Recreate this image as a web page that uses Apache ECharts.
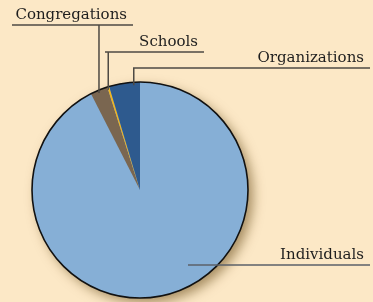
<!DOCTYPE html>
<html>
<head>
<meta charset="utf-8">
<script src="https://cdn.jsdelivr.net/npm/echarts@6/dist/echarts.min.js"></script>
<style>
html, body { margin: 0; padding: 0; background: #fce8c6; }
#chart { width: 373px; height: 302px; }
</style>
</head>
<body>
<div id="chart"></div>
<script>
var categories = ['Individuals', 'Congregations', 'Schools', 'Organizations'];
var values = [92.5, 2.6, 0.3, 4.6];
var colors = ['#86afd6', '#7a6650', '#f2b51c', '#2e5a8e'];

// where each label's underline sits, and where along the slice its leader starts
var labelPlace = [
  { y: 265, left: 188, right: 370, at: null },
  { y: 25, left: 12, right: 133, at: 0.5 },
  { y: 52, left: 105, right: 204, at: 0.5 },
  { y: 68, left: 133, right: 370, at: 0.8 }
];

var cx = 140, cy = 190, r = 108;

var total = values.reduce(function (a, b) { return a + b; }, 0);
var starts = [];
var acc = 0;
values.forEach(function (v) { starts.push(acc); acc += v; });

var chart = echarts.init(document.getElementById('chart'));

var fillData = categories.map(function (name, i) {
  return { name: name, value: values[i], itemStyle: { color: colors[i] } };
});

var labelData = categories.map(function (name, i) {
  return {
    name: name,
    value: values[i],
    labelLine: { lineStyle: { color: i === 0 ? '#5b6068' : '#4e4a44' } }
  };
});

function placeLabel(p) {
  var i = p.dataIndex;
  var pl = labelPlace[i];
  var pts;
  if (pl.at === null) {
    pts = [[pl.left, pl.y], [pl.right, pl.y]];
  } else {
    var a = (starts[i] + values[i] * pl.at) / total * Math.PI * 2;
    var ax = cx + r * Math.sin(a);
    var ay = cy - r * Math.cos(a) + 3;
    pts = [[ax, ay], [ax, pl.y], [pl.left, pl.y], [pl.right, pl.y]];
  }
  return {
    x: pl.right - 6,
    y: pl.y - 2,
    align: 'right',
    verticalAlign: 'bottom',
    labelLinePoints: pts
  };
}

var option = {
  backgroundColor: '#fce8c6',
  animation: false,
  series: [
    {
      // shadow under the pie
      type: 'pie',
      silent: true,
      z: 1,
      center: [cx, cy],
      radius: r,
      data: [{ value: 1 }],
      label: { show: false },
      labelLine: { show: false },
      itemStyle: {
        color: '#86afd6',
        borderWidth: 0,
        shadowBlur: 12,
        shadowOffsetX: 5,
        shadowOffsetY: 5,
        shadowColor: 'rgba(95,65,15,0.55)'
      }
    },
    {
      type: 'pie',
      z: 2,
      center: [cx, cy],
      radius: r,
      startAngle: 90,
      clockwise: true,
      data: fillData,
      itemStyle: { borderWidth: 0 },
      label: { show: false },
      labelLine: { show: false }
    },
    {
      // labels and leader lines, drawn above the slices
      type: 'pie',
      silent: true,
      z: 5,
      center: [cx, cy],
      radius: r,
      startAngle: 90,
      clockwise: true,
      avoidLabelOverlap: false,
      data: labelData,
      itemStyle: { color: 'rgba(0,0,0,0)', borderWidth: 0 },
      label: {
        show: true,
        position: 'outside',
        formatter: '{b}',
        color: '#1e1e1e',
        fontFamily: 'DejaVu Serif',
        fontSize: 15
      },
      labelLine: { show: true, length: 5, length2: 5, lineStyle: { width: 1.5 } },
      labelLayout: placeLabel
    },
    {
      // outline
      type: 'pie',
      silent: true,
      z: 4,
      center: [cx, cy],
      radius: r,
      data: [{ value: 1 }],
      label: { show: false },
      labelLine: { show: false },
      itemStyle: {
        color: 'rgba(0,0,0,0)',
        borderColor: '#111',
        borderWidth: 1.6
      }
    }
  ]
};

chart.setOption(option);
</script>
</body>
</html>
